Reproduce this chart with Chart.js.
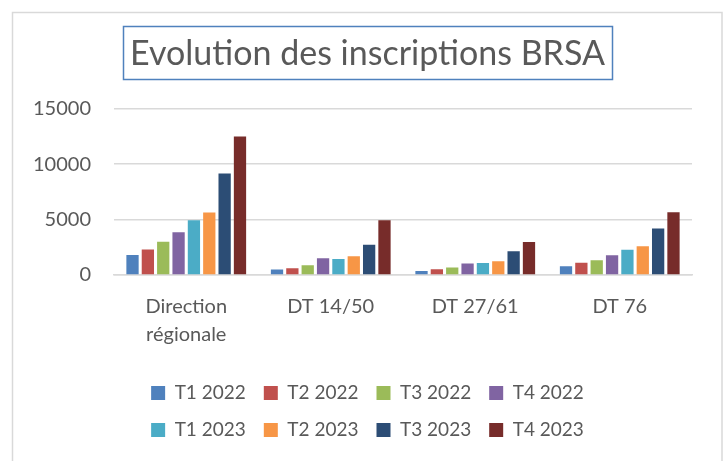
<!DOCTYPE html>
<html>
<head>
<meta charset="utf-8">
<script src="https://cdn.jsdelivr.net/npm/chart.js@4.4.1/dist/chart.umd.min.js"></script>
<style>
  html, body { margin: 0; padding: 0; background: #ffffff; }
  #brsa_chart { display: block; }
</style>
</head>
<body>
<canvas id="brsa_chart" width="726" height="461"></canvas>
<script>
var categories = [['Direction', 'régionale'], 'DT 14/50', 'DT 27/61', 'DT 76'];
var series_names = ['T1 2022', 'T2 2022', 'T3 2022', 'T4 2022', 'T1 2023', 'T2 2023', 'T3 2023', 'T4 2023'];

var t1_2022 = [1800, 500, 350, 800];
var t2_2022 = [2300, 600, 520, 1100];
var t3_2022 = [3000, 880, 670, 1340];
var t4_2022 = [3850, 1520, 1030, 1790];
var t1_2023 = [4950, 1450, 1090, 2270];
var t2_2023 = [5650, 1700, 1250, 2600];
var t3_2023 = [9150, 2730, 2150, 4200];
var t4_2023 = [12500, 4950, 2970, 5670];

var y_ticks = [0, 5000, 10000, 15000];

var series_values = [t1_2022, t2_2022, t3_2022, t4_2022, t1_2023, t2_2023, t3_2023, t4_2023];
var series_colors = ['#4F81BD', '#C0504D', '#9BBB59', '#8064A2', '#4BACC6', '#F79646', '#2C4D75', '#772C2A'];

Chart.defaults.font.family = 'Lato';
Chart.defaults.color = '#595959';

var datasets = [];
for (var i = 0; i < series_names.length; i++) {
    datasets.push({
        label: series_names[i],
        data: series_values[i],
        backgroundColor: series_colors[i],
        borderWidth: 0,
        categoryPercentage: 0.85,
        barPercentage: 0.8
    });
}

// outer frame + border around the title
var frames = {
    id: 'frames',
    beforeDraw: function (chart) {
        var ctx = chart.ctx;
        ctx.save();
        ctx.strokeStyle = '#d9d9d9';
        ctx.lineWidth = 1.5;
        ctx.strokeRect(12.5, 12.5, 709.5, 460);
        ctx.restore();
    },
    afterDraw: function (chart) {
        var t = chart.titleBlock;
        if (!t) return;
        var ctx = chart.ctx;
        var opts = chart.options.plugins.title;
        ctx.save();
        ctx.font = 'normal ' + opts.font.size + 'px Lato';
        var w = ctx.measureText(opts.text).width;
        var cx = (t.left + t.right) / 2;
        ctx.strokeStyle = '#4F81BD';
        ctx.lineWidth = 1.5;
        ctx.strokeRect(Math.round(cx - w / 2 - 7) + 0.5, 26.5, Math.round(w + 14), 53);
        ctx.restore();
    }
};

// keep the legend on 4 items per row
var legendRows = {
    id: 'legendRows',
    afterInit: function (chart) {
        var lg = chart.legend;
        var orig = lg.update.bind(lg);
        lg.update = function (maxW, maxH, margins) {
            orig(Math.min(maxW, 500), maxH, margins);
        };
    },
    afterLayout: function (chart) {
        // narrow the legend box so drawing wraps the same way as fitting
        var lg = chart.legend;
        if (!lg || !lg.lineWidths) return;
        var cx = (lg.left + lg.right) / 2;
        var w = Math.max.apply(null, lg.lineWidths) + lg.options.labels.padding + 4;
        lg.left = cx - w / 2;
        lg.right = cx + w / 2;
        lg.width = w;
    }
};

function draw_chart() {
    var ctx = document.getElementById('brsa_chart');
    var chart = new Chart(ctx, {
        type: 'bar',
        data: {
            labels: categories,
            datasets: datasets
        },
        options: {
            responsive: false,
            animation: false,
            layout: {
                padding: { top: 13, left: 13, right: 4, bottom: 11.5 }
            },
            plugins: {
                title: {
                    display: true,
                    text: 'Evolution des inscriptions BRSA',
                    color: '#595959',
                    font: { size: 34, weight: 'normal', lineHeight: 1.2 },
                    padding: { top: 21, bottom: 34 }
                },
                legend: {
                    position: 'bottom',
                    labels: {
                        boxWidth: 14,
                        boxHeight: 14,
                        padding: 18,
                        color: '#595959',
                        font: { size: 19 }
                    }
                },
                tooltip: { enabled: false }
            },
            scales: {
                x: {
                    grid: { display: false, drawTicks: false },
                    border: { display: true, color: '#d9d9d9', width: 1.5 },
                    ticks: {
                        padding: 18,
                        font: { size: 20, lineHeight: 1.37 },
                        maxRotation: 0,
                        autoSkip: false
                    },
                    afterFit: function (scale) { scale.height = 90.5; }
                },
                y: {
                    min: 0,
                    max: 15000,
                    afterBuildTicks: function (scale) {
                        scale.ticks = y_ticks.map(function (v) { return { value: v }; });
                    },
                    grid: { color: '#d9d9d9', lineWidth: 1.5, drawTicks: false },
                    border: { display: false },
                    ticks: {
                        padding: 23,
                        font: { size: 20 },
                        callback: function (value) { return String(value); }
                    },
                    afterFit: function (scale) { scale.width = 101; }
                },
                // empty right margin so the plot ends where the reference does
                y_right: {
                    position: 'right',
                    display: true,
                    grid: { display: false, drawTicks: false },
                    border: { display: false },
                    ticks: { display: false },
                    afterFit: function (scale) { scale.width = 30; }
                }
            }
        },
        plugins: [frames, legendRows]
    });
}

Promise.all([
    document.fonts.load('19px Lato'),
    document.fonts.load('34px Lato')
]).then(draw_chart, draw_chart);
</script>
</body>
</html>
